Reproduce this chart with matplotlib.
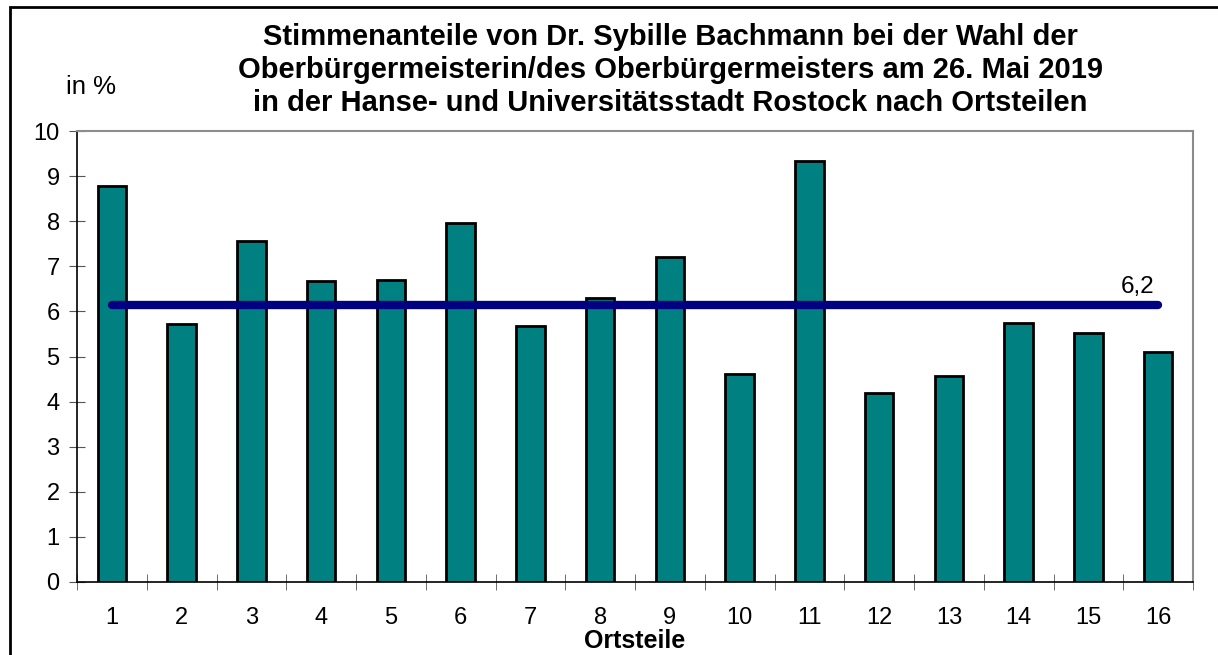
import matplotlib.pyplot as plt
import matplotlib.patches as patches
import numpy as np

plt.rcParams['font.family'] = ['Liberation Sans', 'DejaVu Sans']

ortsteile = [str(i) for i in range(1, 17)]
anteile = [8.77, 5.72, 7.55, 6.68, 6.70, 7.95, 5.68, 6.30, 7.21, 4.61, 9.34, 4.20, 4.57, 5.75, 5.51, 5.09]
mittel = 6.15
mittel_text = "6,2"

titel = ("Stimmenanteile von Dr. Sybille Bachmann bei der Wahl der\n"
         "Oberbürgermeisterin/des Oberbürgermeisters am 26. Mai 2019\n"
         "in der Hanse- und Universitätsstadt Rostock nach Ortsteilen")

fig = plt.figure(figsize=(12.18, 6.55), dpi=100)
ax = fig.add_axes([77/1218, 1-582/655, (1193-77)/1218, (582-131)/655])

x = np.arange(1, len(anteile) + 1)
ax.bar(x, anteile, width=0.41, color='#008080', edgecolor='black', linewidth=2, zorder=2)
ax.plot([x[0], x[-1]], [mittel, mittel], color='#000080', linewidth=6,
        solid_capstyle='round', zorder=3)
ax.text(15.7, mittel + 0.15, mittel_text, fontsize=17.5, ha='center', va='bottom')

ax.set_xlim(0.5, 16.5)
ax.set_ylim(0, 10)
ax.set_yticks(range(0, 11))
ax.set_xticks(x)
ax.set_xticklabels(ortsteile)
ax.set_xticks(np.arange(0.5, 17), minor=True)
ax.tick_params(axis='x', which='major', length=0, labelsize=17, pad=18)
ax.tick_params(axis='x', which='minor', direction='inout', length=11, color='#555555')
ax.tick_params(axis='y', direction='inout', length=11, color='#555555', labelsize=17, pad=7)

for s in ['top', 'right']:
    ax.spines[s].set_color('#8c8c8c')
    ax.spines[s].set_linewidth(1.5)
for s in ['left', 'bottom']:
    ax.spines[s].set_color('black')
    ax.spines[s].set_linewidth(1.2)

ax.set_xlabel("Ortsteile", fontsize=18, fontweight='bold', labelpad=0)
fig.text(91/1218, 1-87/655, "in %", fontsize=18.5, ha='center', va='center')
fig.text(670/1218, 1-70/655, titel, fontsize=21, fontweight='bold',
         ha='center', va='center', linespacing=1.22)

fig.patches.append(patches.Rectangle((10/1218, -0.05), 1.1, 1.05 - 6.5/655,
                                     transform=fig.transFigure, fill=False,
                                     edgecolor='black', linewidth=2))

fig.savefig("out.png", dpi=100)
